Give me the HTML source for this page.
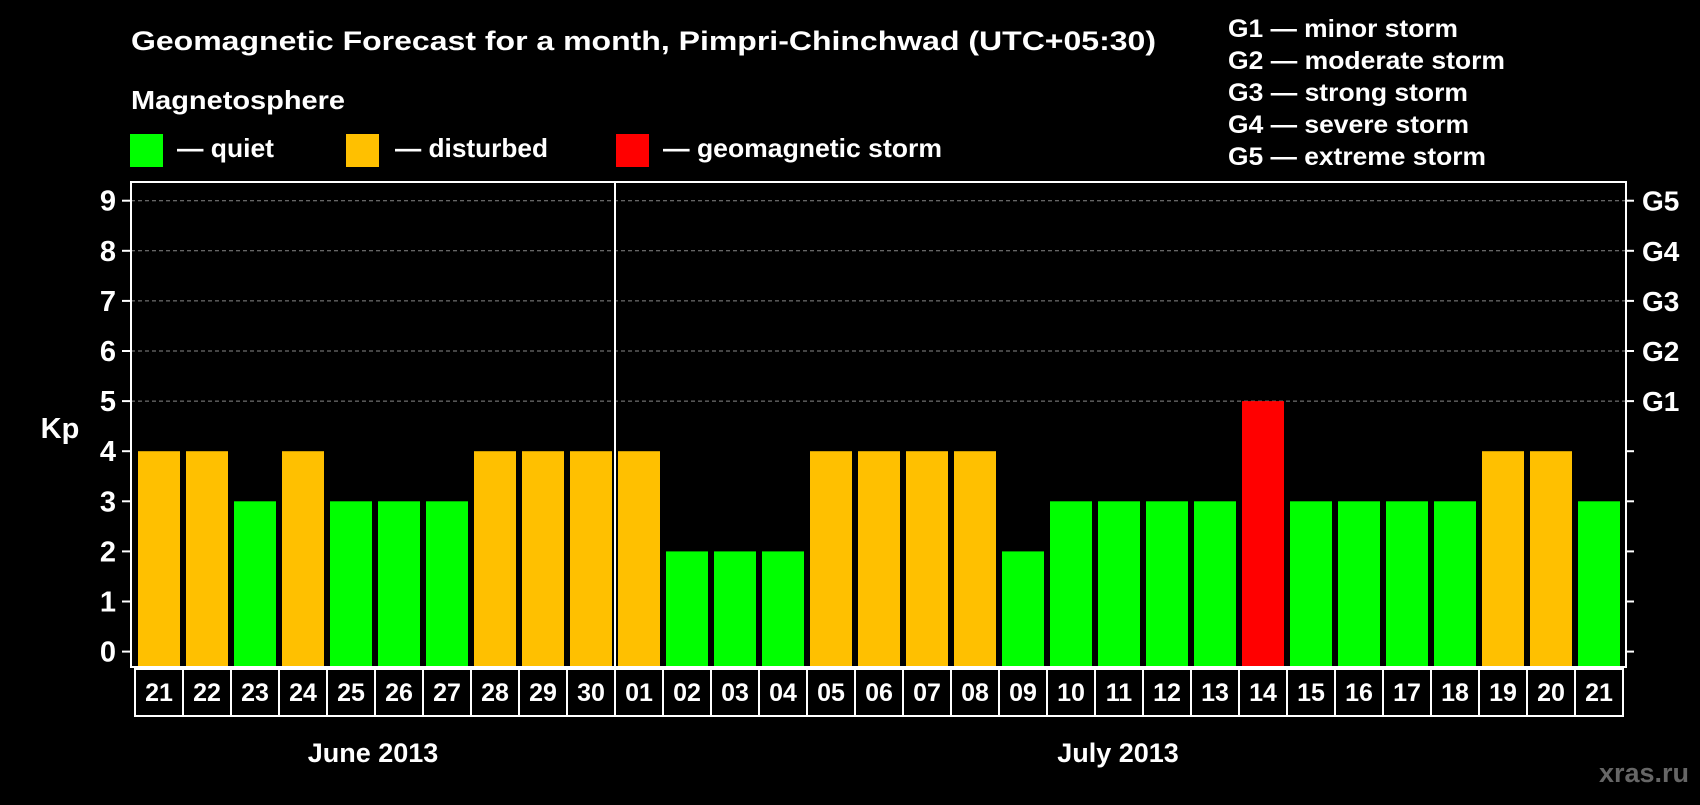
<!DOCTYPE html>
<html><head><meta charset="utf-8"><style>
body{margin:0;background:#000;width:1700px;height:800px;overflow:hidden;font-family:"Liberation Sans",sans-serif;font-weight:bold;color:#fff}
svg text{font-family:"Liberation Sans",sans-serif;font-weight:bold;fill:#fff}
</style></head><body>
<svg id="c" width="1700" height="800">
<text x="131" y="50" font-size="27" textLength="1025" lengthAdjust="spacingAndGlyphs">Geomagnetic Forecast for a month, Pimpri-Chinchwad (UTC+05:30)</text>
<text x="131" y="109" font-size="26" textLength="214" lengthAdjust="spacingAndGlyphs">Magnetosphere</text>
<rect x="130" y="134" width="33" height="33" fill="#00ff00"/>
<text x="177" y="157" font-size="26" textLength="97" lengthAdjust="spacingAndGlyphs">— quiet</text>
<rect x="346" y="134" width="33" height="33" fill="#ffc000"/>
<text x="395" y="157" font-size="26" textLength="153" lengthAdjust="spacingAndGlyphs">— disturbed</text>
<rect x="616" y="134" width="33" height="33" fill="#ff0000"/>
<text x="663" y="157" font-size="26" textLength="279" lengthAdjust="spacingAndGlyphs">— geomagnetic storm</text>
<g id="glegend"></g>
<g id="plot"></g>
<text x="60" y="438" font-size="29" text-anchor="middle">Kp</text>
<text x="373" y="762" font-size="27" text-anchor="middle">June 2013</text>
<text x="1118" y="762" font-size="27" text-anchor="middle">July 2013</text>
<text x="1689" y="782" font-size="27" text-anchor="end" style="fill:#666">xras.ru</text>
</svg>
<script>
const days=["21","22","23","24","25","26","27","28","29","30","01","02","03","04","05","06","07","08","09","10","11","12","13","14","15","16","17","18","19","20","21"];
const kp=[4,4,3,4,3,3,3,4,4,4,4,2,2,2,4,4,4,4,2,3,3,3,3,5,3,3,3,3,4,4,3];
const yTicks=[0,1,2,3,4,5,6,7,8,9];
const gLabels=["G1","G2","G3","G4","G5"];
const gText=["G1 — minor storm","G2 — moderate storm","G3 — strong storm","G4 — severe storm","G5 — extreme storm"];
const NS="http://www.w3.org/2000/svg";
const plot=document.getElementById('plot');
const L=131,R=1626,T=182,B=667;
const y=v=>651.6-v*50.1;
const x=i=>138+i*48;
function mk(tag,attrs,parent){const e=document.createElementNS(NS,tag);for(const k in attrs)e.setAttribute(k,attrs[k]);(parent||plot).appendChild(e);return e;}
yTicks.forEach(v=>{
  if(v>=5){const g=mk('line',{x1:L,x2:R,y1:y(v),y2:y(v),stroke:'#888','stroke-dasharray':'4 3','stroke-width':1});
  
  }
  const t1=mk('line',{x1:L-9,x2:L,y1:y(v),y2:y(v),stroke:'#fff','stroke-width':2});
  
  
  const t2=mk('line',{x1:R,x2:R+8,y1:y(v),y2:y(v),stroke:'#fff','stroke-width':2});
  
  
  const lb=mk('text',{x:116,y:y(v)+10,'font-size':29,'text-anchor':'end'});lb.textContent=v;
  
  
  if(v>=5){const g=mk('text',{x:1642,y:y(v)+10,'font-size':28});g.textContent=gLabels[v-5];
  
  }
});
kp.forEach((v,i)=>{
  const col=v>=5?'#ff0000':(v>=4?'#ffc000':'#00ff00');
  const b=mk('rect',{x:x(i),y:y(v),width:42,height:B-y(v)-1,fill:col});
  
  
  const bx=mk('rect',{x:135+i*48,y:669,width:48,height:47,fill:'none',stroke:'#fff','stroke-width':2});
  
  
  const t=mk('text',{x:x(i)+21,y:701,'font-size':25,'text-anchor':'middle'});t.textContent=days[i];
  
  
});
const fr=mk('rect',{x:L,y:T,width:R-L,height:B-T,fill:'none',stroke:'#fff','stroke-width':2});


const dv=mk('line',{x1:615,x2:615,y1:T,y2:B,stroke:'#fff','stroke-width':2});


const gl=document.getElementById('glegend');
const gEnds=[1458,1505,1468,1469,1486];
gText.forEach((s,i)=>{const t=mk('text',{x:1228,y:37+i*32,'font-size':25,textLength:gEnds[i]-1228,lengthAdjust:'spacingAndGlyphs'},gl);t.textContent=s;

});
</script>
</body></html>
